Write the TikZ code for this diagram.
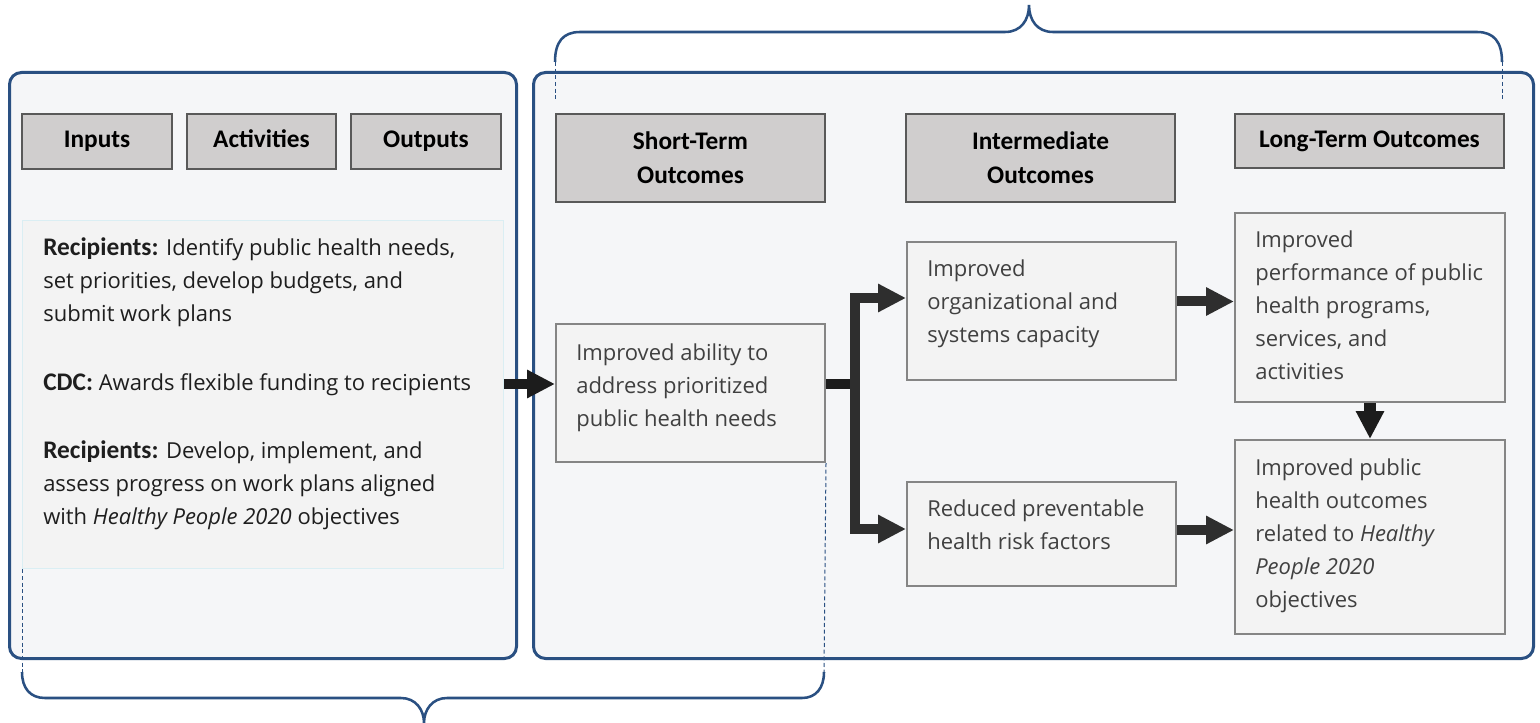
\documentclass[tikz,border=0pt]{standalone}
\usepackage{fontspec}
\setmainfont{Open Sans}
\newfontfamily\hdfont{Carlito}
\usetikzlibrary{arrows.meta,calc}
\definecolor{navy}{HTML}{2A5082}
\definecolor{panelbg}{HTML}{F5F6F8}
\definecolor{hdrfill}{HTML}{D0CECE}
\definecolor{hdrline}{HTML}{595959}
\definecolor{boxfill}{HTML}{F3F3F3}
\definecolor{boxline}{HTML}{858585}
\definecolor{lightline}{HTML}{DAEEF3}
\definecolor{bodytxt}{HTML}{404040}
\definecolor{lefttxt}{HTML}{1E1E1E}
\definecolor{arrA}{HTML}{1C1C1C}
\definecolor{arrB}{HTML}{2E2E2E}
\newcommand{\lbl}[1]{{\fontsize{19pt}{24.75pt}\selectfont\hdfont\bfseries #1}}
\tikzset{
  sz/.style 2 args={minimum width={#1*0.75pt}, minimum height={#2*0.75pt}},
  panel/.style={draw=navy, line width=2.25pt, fill=panelbg, rounded corners=9pt, anchor=north west, inner sep=0pt},
  hdr/.style={draw=hdrline, line width=1.5pt, fill=hdrfill, anchor=north west, inner sep=0pt, align=center,
    font=\fontsize{19pt}{25.5pt}\selectfont\hdfont\bfseries, text=black},
  hdrone/.style={hdr, text height=13pt, text depth=3.5pt},
  cbox/.style={draw=boxline, line width=1.5pt, fill=boxfill, anchor=north west, inner sep=0pt},
  lbox/.style={draw=lightline, line width=1pt, fill=boxfill, anchor=north west, inner sep=0pt},
  txt/.style={anchor=north west, inner sep=0pt, align=left, text=bodytxt,
    font=\fontsize{16.5pt}{24.75pt}\selectfont},
  ltxt/.style={txt, text=lefttxt},
  arr/.style={draw=arrA, line width=7.5pt, -{Triangle[length=21pt,width=20pt]}},
  arrb/.style={draw=arrB, line width=7.5pt, -{Triangle[length=21pt,width=20pt]}},
  thick line/.style={draw=arrA, line width=7.5pt},
  brace/.style={draw=navy, line width=1.9pt},
  dashline/.style={draw=navy, line width=0.75pt, dash pattern=on 3pt off 2pt}
}
\begin{document}
\begin{tikzpicture}[x=0.75pt,y=-0.75pt]
\useasboundingbox (0,0) rectangle (1540,723);
\fill[white] (0,0) rectangle (1540,723);

% panels
\node[panel, sz={507}{586}] (lp) at (8,71) {};
\node[panel, sz={1000}{586}] (rp) at (532,71) {};

% headers
\node[hdrone, sz={150}{55}] (inp) at (21,113) {Inputs};
\node[hdrone, sz={149}{55}] (act) at (186,113) {Activities};
\node[hdrone, sz={150}{55}] (outp) at (350,113) {Outputs};
\node[hdr, sz={269}{88}] (sth) at (555,113) {Short-Term\\Outcomes};
\node[hdr, sz={269}{88}] (imh) at (905,113) {Intermediate\\Outcomes};
\node[hdrone, sz={269}{54}] (lth) at (1234,113) {Long-Term Outcomes};

% content boxes
\node[lbox, sz={481}{348}] (lt) at (22,220) {};
\node[cbox, sz={269}{138}] (st) at (555,323) {};
\node[cbox, sz={269}{138}] (imu) at (906,241) {};
\node[cbox, sz={269}{104}] (iml) at (906,481) {};
\node[cbox, sz={270}{189}] (ltu) at (1234,212) {};
\node[cbox, sz={270}{194}] (ltl) at (1234,439) {};

% texts
\node[ltxt] (ltt) at ($(lt.north west)+(21,17)$) {\lbl{Recipients:} Identify public health needs,\\set priorities, develop budgets, and\\submit work plans\\[27.5pt]\lbl{CDC:} Awards flexible funding to recipients\\[26pt]\lbl{Recipients:} Develop, implement, and\\assess progress on work plans aligned\\with \textit{Healthy People 2020} objectives};
\node[txt] (stt) at ($(st.north west)+(21,21)$) {Improved ability to\\address prioritized\\public health needs};
\node[txt] (imut) at ($(imu.north west)+(21,19)$) {Improved\\organizational and\\systems capacity};
\node[txt] (imlt) at ($(iml.north west)+(21,19)$) {Reduced preventable\\health risk factors};
\node[txt] (ltut) at ($(ltu.north west)+(21,19)$) {Improved\\performance of public\\health programs,\\services, and\\activities};
\node[txt] (ltlt) at ($(ltl.north west)+(21,20)$) {Improved public\\health outcomes\\related to \textit{Healthy}\\\textit{People 2020}\\objectives};

% connectors
\coordinate (stin) at ($(st.west)+(0,-9)$);
\coordinate (stout) at ($(st.east)+(0,-9)$);
\coordinate (j) at ($(stout)+(29,0)$);
\coordinate (imuin) at ($(imu.north west)+(0,57)$);
\coordinate (imlin) at ($(iml.west)+(0,-5)$);
\coordinate (ltuin) at ($(ltu.west)+(0,-6)$);
\coordinate (ltlin) at ($(ltl.west)+(0,-7)$);
\draw[arr] (lt.east |- stin) -- (stin);
\draw[thick line] (stout) -- (j);
\draw[arrb] (j) |- (imuin);
\draw[arrb] (j) |- (imlin);
\draw[arrb] (imu.east |- ltuin) -- (ltuin);
\draw[arrb] (iml.east |- ltlin) -- (ltlin);
\draw[arr, line width=9pt] (ltu.south) -- (ltl.north);

% braces
\coordinate (tbl) at (555,62);
\coordinate (tbr) at (1502,62);
\coordinate (tdl) at (555,100);
\coordinate (tdr) at (1502,100);
\coordinate (bbl) at (22,672);
\coordinate (bbr) at (824,672);
\draw[brace] (tbl) .. controls (555,42) and (563,32) .. (580,32) -- (1005,32)
  .. controls (1021,32) and (1029,20) .. (1029,5)
  .. controls (1029,20) and (1037,32) .. (1053,32) -- (1477,32)
  .. controls (1494,32) and (1502,42) .. (tbr);
\draw[brace] (bbl) .. controls (22,688) and (30,698) .. (45,698) -- (401,698)
  .. controls (416,698) and (424,710) .. (424,723)
  .. controls (424,710) and (432,698) .. (447,698) -- (802,698)
  .. controls (816,698) and (824,688) .. (bbr);
\draw[dashline] (tbl) -- (tdl);
\draw[dashline] (tbr) -- (tdr);
\draw[dashline] (lt.south west) -- (bbl);
\draw[dashline] (st.south east) -- (bbr);
\end{tikzpicture}
\end{document}
